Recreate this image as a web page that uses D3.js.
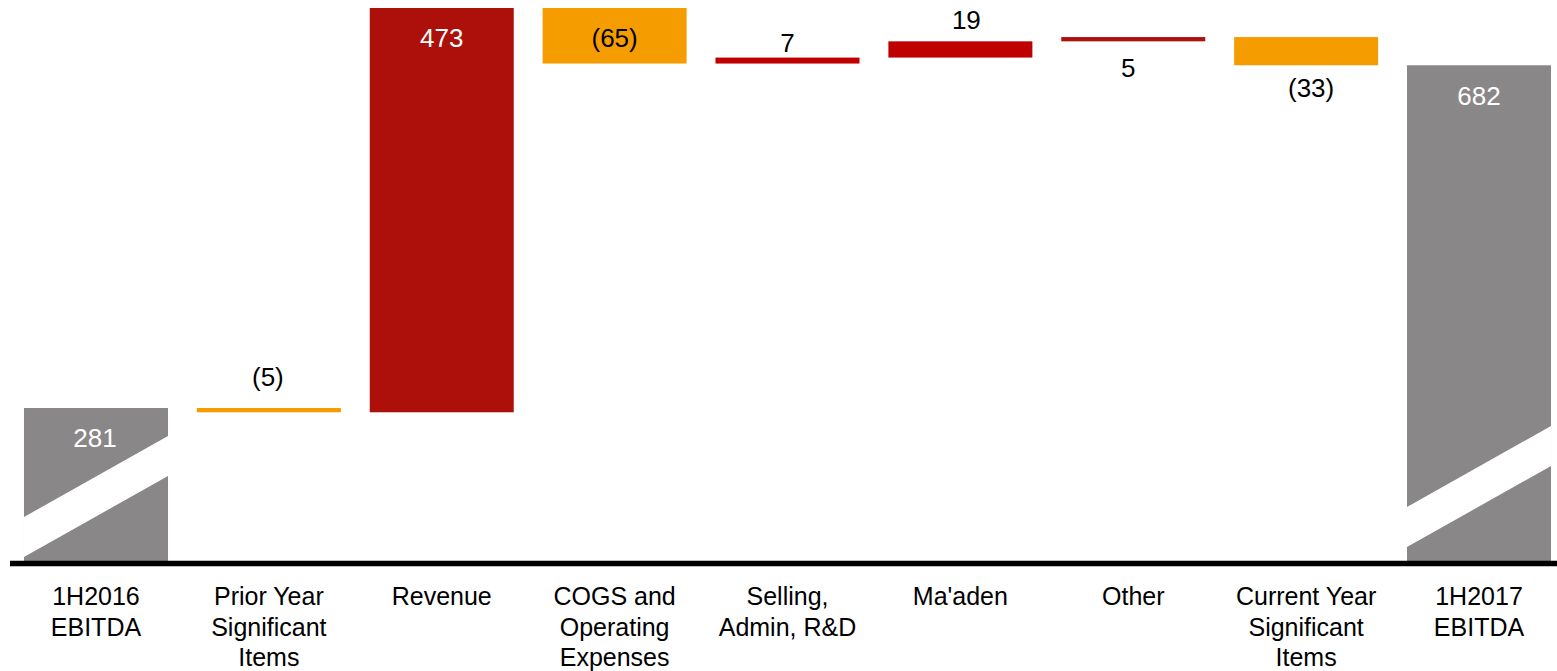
<!DOCTYPE html>
<html>
<head>
<meta charset="utf-8">
<script src="https://cdn.jsdelivr.net/npm/d3@7"></script>
<style>
  html, body { margin: 0; padding: 0; background: #ffffff; }
  svg { display: block; }
  text { font-family: "Liberation Sans", Arial, sans-serif; }
</style>
</head>
<body>
<svg id="chart" width="1557" height="671"></svg>
<script>
// ---- data ----
const categories = [
  ["1H2016", "EBITDA"],
  ["Prior Year", "Significant", "Items"],
  ["Revenue"],
  ["COGS and", "Operating", "Expenses"],
  ["Selling,", "Admin, R&D"],
  ["Ma'aden"],
  ["Other"],
  ["Current Year", "Significant", "Items"],
  ["1H2017", "EBITDA"]
];
const kinds = ["total", "delta", "delta", "delta", "delta", "delta", "delta", "delta", "total"];
const values = [281, -5, 473, -65, 7, 19, 5, -33, 682];
const valueLabels = ["281", "(5)", "473", "(65)", "7", "19", "5", "(33)", "682"];

// ---- styles (kept separate from data) ----
const barColors = ["#898788", "#F59D00", "#AD0F0A", "#F59D00", "#C00000", "#C00000", "#AE1010", "#F59D00", "#898788"];
const labelPlace = ["inside", "above", "inside", "inside", "above", "above", "below", "below", "inside"];
const labelGap = [39, 22, 39, 39, 6, 12, 36, 32, 40];
const labelDx = [-1, -1, 0, 0, 0, 6, -5, 5, 0];
const breakOffset = [4, null, null, null, null, null, null, null, 14]; // px above baseline at left edge

const svg = d3.select("#chart");
const W = 1557;

// waterfall start/end
let run = 0;
const bars = values.map((v, i) => {
  let lo, hi;
  if (kinds[i] === "total") { lo = null; hi = v; run = v; }
  else { const s = run; run = s + v; lo = Math.min(s, run); hi = Math.max(s, run); }
  return { i, v, lo, hi };
});

const x = d3.scaleBand()
  .domain(d3.range(categories.length))
  .range([9.55, 1565.45])
  .paddingInner(0.167)
  .paddingOuter(0.0835);

const y = d3.scaleLinear().domain([102, 749]).range([561, 8]);
const baseY = y.range()[0];

const g = svg.append("g");

g.selectAll("rect.bar")
  .data(bars)
  .join("rect")
  .attr("class", "bar")
  .attr("x", d => x(d.i))
  .attr("width", x.bandwidth())
  .attr("y", d => y(d.hi))
  .attr("height", d => (d.lo === null ? baseY : y(d.lo)) - y(d.hi))
  .attr("fill", d => barColors[d.i]);

// axis break stripes on totals
const stripeThick = 40;
const stripeRise = 81;
bars.filter(d => breakOffset[d.i] !== null).forEach(d => {
  const x0 = x(d.i), x1 = x0 + x.bandwidth();
  const b = breakOffset[d.i];
  const pts = [
    [x0, baseY - b],
    [x1, baseY - b - stripeRise],
    [x1, baseY - b - stripeRise - stripeThick],
    [x0, baseY - b - stripeThick]
  ];
  g.append("polygon")
    .attr("points", pts.map(p => p.join(",")).join(" "))
    .attr("fill", "#ffffff");
});

// baseline
g.append("line")
  .attr("x1", 10).attr("x2", W)
  .attr("y1", baseY + 2.5).attr("y2", baseY + 2.5)
  .attr("stroke", "#000").attr("stroke-width", 5.5);

// value labels
g.selectAll("text.val")
  .data(bars)
  .join("text")
  .attr("class", "val")
  .attr("x", d => x(d.i) + x.bandwidth() / 2 + labelDx[d.i])
  .attr("y", d => {
    const top = y(d.hi);
    const bot = d.lo === null ? baseY : y(d.lo);
    const p = labelPlace[d.i];
    if (p === "inside") return top + labelGap[d.i];
    if (p === "above") return top - labelGap[d.i];
    return bot + labelGap[d.i];
  })
  .attr("text-anchor", "middle")
  .attr("font-size", 26)
  .attr("fill", d => (kinds[d.i] === "total" || d.i === 2) ? "#ffffff" : "#000000")
  .text(d => valueLabels[d.i]);

// category labels
const cat = g.selectAll("text.cat")
  .data(categories)
  .join("text")
  .attr("class", "cat")
  .attr("text-anchor", "middle")
  .attr("font-size", 25)
  .attr("fill", "#000");
cat.each(function(lines, i) {
  const t = d3.select(this);
  lines.forEach((ln, k) => {
    t.append("tspan")
      .attr("x", x(i) + x.bandwidth() / 2)
      .attr("y", 605 + k * 30.5)
      .text(ln);
  });
});
</script>
</body>
</html>
